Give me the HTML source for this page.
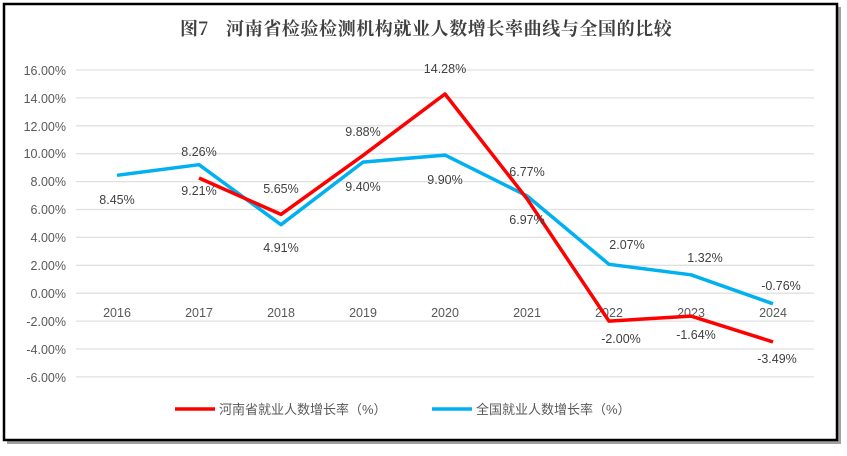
<!DOCTYPE html>
<html><head><meta charset="utf-8"><style>
body{margin:0;background:#fff;width:847px;height:451px;overflow:hidden}
</style></head><body>
<svg width="847" height="451" xmlns="http://www.w3.org/2000/svg" font-family="'Liberation Sans','Noto Sans CJK SC',sans-serif">
<rect x="7" y="7" width="834" height="437" fill="#a0a0a0"/>
<rect x="4" y="4" width="833" height="436" fill="#fff" stroke="#000" stroke-width="2.5"/>
<text x="180" y="35" font-size="18" font-weight="bold" fill="#404040" font-family="'Noto Serif CJK SC','Noto Sans CJK SC',serif">图7</text>
<text x="226" y="35" font-size="18" font-weight="bold" fill="#404040" letter-spacing="0.6" font-family="'Noto Serif CJK SC','Noto Sans CJK SC',serif">河南省检验检测机构就业人数增长率曲线与全国的比较</text>
<g stroke="#e0e0e0" stroke-width="1.3">
<line x1="76" x2="814" y1="70" y2="70"/><line x1="76" x2="814" y1="97.9" y2="97.9"/>
<line x1="76" x2="814" y1="125.8" y2="125.8"/><line x1="76" x2="814" y1="153.7" y2="153.7"/>
<line x1="76" x2="814" y1="181.6" y2="181.6"/><line x1="76" x2="814" y1="209.5" y2="209.5"/>
<line x1="76" x2="814" y1="237.4" y2="237.4"/><line x1="76" x2="814" y1="265.3" y2="265.3"/>
<line x1="76" x2="814" y1="293.2" y2="293.2"/><line x1="76" x2="814" y1="321.1" y2="321.1"/>
<line x1="76" x2="814" y1="349" y2="349"/><line x1="76" x2="814" y1="376.9" y2="376.9"/>
</g>
<g font-size="12.5" fill="#595959" text-anchor="end">
<text x="66" y="75">16.00%</text><text x="66" y="103">14.00%</text><text x="66" y="131">12.00%</text>
<text x="66" y="158">10.00%</text><text x="66" y="186">8.00%</text><text x="66" y="214">6.00%</text>
<text x="66" y="242">4.00%</text><text x="66" y="270">2.00%</text><text x="66" y="298">0.00%</text>
<text x="66" y="326">-2.00%</text><text x="66" y="354">-4.00%</text><text x="66" y="382">-6.00%</text>
</g>
<g font-size="12.5" fill="#595959" text-anchor="middle">
<text x="117" y="317">2016</text><text x="199" y="317">2017</text><text x="281" y="317">2018</text>
<text x="363" y="317">2019</text><text x="445" y="317">2020</text><text x="527" y="317">2021</text>
<text x="609" y="317">2022</text><text x="691" y="317">2023</text><text x="773" y="317">2024</text>
</g>
<polyline fill="none" stroke="#00b0f0" stroke-width="3.5" stroke-linejoin="round" points="117,175.3 199,164.7 281,224.7 363,162.1 445,155.1 527,195.9 609,264.3 691,274.8 773,303.8"/>
<polyline fill="none" stroke="#ff0000" stroke-width="3.5" stroke-linejoin="round" points="199,178 281,214.4 363,155.4 445,94 527,198.8 609,321.1 691,316.1 773,341.9"/>
<g font-size="12.5" fill="#404040" text-anchor="middle">
<text x="117" y="204">8.45%</text>
<text x="199" y="156">8.26%</text><text x="199" y="195">9.21%</text>
<text x="281" y="193">5.65%</text><text x="281" y="252">4.91%</text>
<text x="363" y="136">9.88%</text><text x="363" y="191">9.40%</text>
<text x="445" y="73">14.28%</text><text x="445" y="184">9.90%</text>
<text x="527" y="176">6.77%</text><text x="527" y="224">6.97%</text>
<text x="627" y="249">2.07%</text><text x="621" y="343">-2.00%</text>
<text x="705" y="262">1.32%</text><text x="696" y="339">-1.64%</text>
<text x="781" y="290">-0.76%</text><text x="777" y="363">-3.49%</text>
</g>
<line x1="175" x2="215" y1="409" y2="409" stroke="#ff0000" stroke-width="3.5"/>
<text x="219" y="414" font-size="13" fill="#595959">河南省就业人数增长率（%）</text>
<line x1="432" x2="472" y1="409" y2="409" stroke="#00b0f0" stroke-width="3.5"/>
<text x="476" y="414" font-size="13" fill="#595959">全国就业人数增长率（%）</text>
</svg>
</body></html>
